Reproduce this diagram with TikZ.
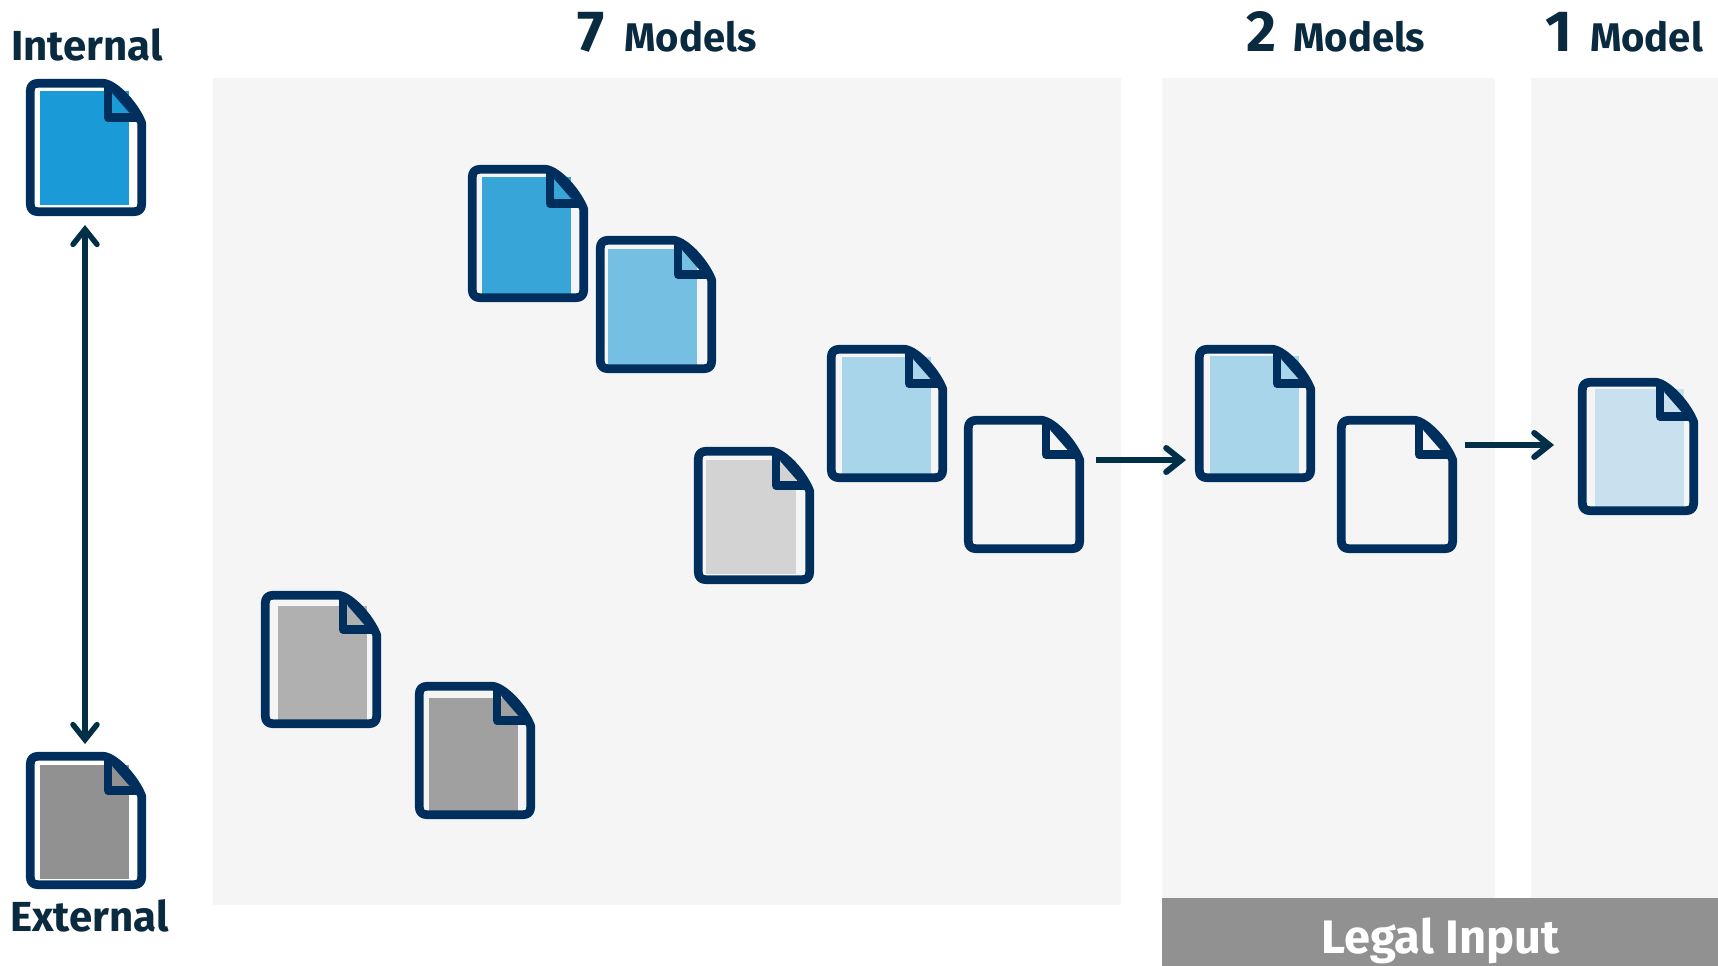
\documentclass[tikz,border=0pt]{standalone}
\usepackage{fontspec}
\setmainfont{Fira Sans}
\usepackage{tikz}
\usetikzlibrary{arrows.meta}
\definecolor{docline}{HTML}{002E5D}
\definecolor{arrowline}{HTML}{002F47}
\definecolor{labeltext}{HTML}{0A2A40}
\definecolor{panelgrey}{HTML}{F5F5F5}
\definecolor{bargrey}{HTML}{919191}
\definecolor{blueA}{HTML}{1A9AD6}
\definecolor{blueB}{HTML}{38A5D9}
\definecolor{blueC}{HTML}{75BFE2}
\definecolor{blueD}{HTML}{A8D5EA}
\definecolor{blueE}{HTML}{C9E0EE}
\definecolor{greyA}{HTML}{D3D3D3}
\definecolor{greyB}{HTML}{B0B0B0}
\definecolor{greyC}{HTML}{A0A0A0}
\tikzset{
  flow/.style={arrowline,line width=6pt,-{Straight Barb[length=15pt,width=24pt,line cap=round]}},
  flowboth/.style={arrowline,line width=5.5pt,{Straight Barb[length=15pt,width=24pt,line cap=round]}-{Straight Barb[length=15pt,width=24pt,line cap=round]}},
  docbox/.style={minimum width=120pt,minimum height=137pt,inner sep=0pt,outer sep=0pt,anchor=north west},
  docedge/.style={docline,line width=8.7pt,line join=round},
  panel/.style={fill=panelgrey,draw=none},
  heading/.style={text=labeltext,font=\bfseries\fontsize{40}{40}\selectfont,inner sep=0pt,anchor=base west},
  sidelabel/.style={heading,font=\bfseries\fontsize{42}{42}\selectfont}
}
\newcommand{\bignum}[1]{{\fontsize{58}{58}\selectfont #1}}
% file icon: name, top left corner, fill colour, fill corners
\newcommand{\docicon}[5]{
  \node[docbox] (#1) at (#2) {};
  \begin{scope}[shift={(#1.north west)}]
    \fill[#3] (#4) rectangle (#5);
    \draw[docedge]
      (12,4.3) -- (78,4.3) .. controls (90,6) and (109,27) .. (115.7,44) -- (115.7,125)
      .. controls (115.7,130) and (113,132.7) .. (108,132.7) -- (12,132.7)
      .. controls (7,132.7) and (4.3,130) .. (4.3,125) -- (4.3,12)
      .. controls (4.3,7) and (7,4.3) .. (12,4.3) -- cycle;
    \draw[docedge] (89.2,10.9) -- (107.2,31.5);
    \draw[docedge] (82,6) -- (82,38.5) -- (114,38.5);
  \end{scope}
}
\begin{document}
\begin{tikzpicture}[x=1pt,y=-1pt]
  \useasboundingbox (0,0) rectangle (1718,966);
  \fill[panel] (213,78) rectangle (1121,905);
  \fill[panel] (1162,78) rectangle (1495,899);
  \fill[panel] (1531,78) rectangle (1718,899);
  \node[fill=bargrey,minimum width=556pt,minimum height=68pt,inner sep=0pt,anchor=north west,
        text height=50pt,text depth=8pt,
        text=white,font=\bfseries\fontsize{47}{47}\selectfont] (legal) at (1162,898) {Legal Input};

  \node[sidelabel] (internallabel) at (11,60) {Internal};
  \node[sidelabel] (externallabel) at (10,931) {External};
  \node[heading] (sevenmodels) at (577,52) {\bignum{7}\hspace{20pt}Models};
  \node[heading] (twomodels) at (1246,52) {\bignum{2}\hspace{17pt}Models};
  \node[heading] (onemodel) at (1545,52) {\bignum{1}\hspace{18pt}Model};

  \docicon{internal}{26,79}{blueA}{14,11.7}{103,126}
  \docicon{external}{26,752}{bargrey}{14,12.7}{103,127}
  \docicon{blueone}{468,165}{blueB}{14,11.7}{103,128.5}
  \docicon{bluetwo}{596,236}{blueC}{11.7,12.7}{101,128.5}
  \docicon{bluethree}{827,345}{blueD}{14.7,11.7}{103.7,129}
  \docicon{plainone}{964,416}{panelgrey}{14,12}{103,126}
  \docicon{greyone}{694,447}{greyA}{12.3,12.7}{101.7,126.7}
  \docicon{greytwo}{261,591}{greyB}{16.7,14.7}{105.7,129}
  \docicon{greythree}{415,682}{greyC}{13.7,15.7}{102.7,128.7}
  \docicon{bluefour}{1195,345}{blueD}{14.6,10.7}{103.8,129}
  \docicon{plaintwo}{1337,416}{panelgrey}{14,12}{103,126}
  \docicon{bluefive}{1578,378}{blueE}{16.5,11}{105.5,128.7}

  \draw[flowboth] ([shift={(-1,9)}]internal.south) -- ([shift={(-1,-8)}]external.north);
  \draw[flow] ([shift={(12,-24.5)}]plainone.east) -- ([shift={(-9,46.5)}]bluefour.west);
  \draw[flow] ([shift={(8,-39.5)}]plaintwo.east) -- ([shift={(-24,-1.5)}]bluefive.west);
\end{tikzpicture}
\end{document}
